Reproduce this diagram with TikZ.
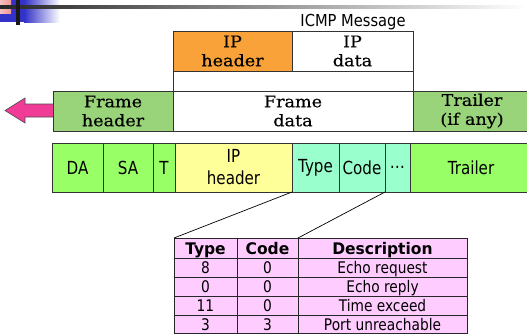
\documentclass[tikz,border=0pt]{standalone}
\usepackage{fontspec}
\newfontfamily\tahA[FakeStretch=0.89]{DejaVu Sans}
\newfontfamily\tahB[FakeStretch=0.84]{DejaVu Sans}
\newfontfamily\tahC[FakeStretch=0.86]{DejaVu Sans}
\newfontfamily\tahD[FakeStretch=0.97]{DejaVu Sans}
\newfontfamily\serifc[FakeStretch=1.1,FakeBold=0.4]{DejaVu Serif}
\definecolor{orangeA}{RGB}{249,162,58}
\definecolor{fgreen}{RGB}{153,211,122}
\definecolor{bgreen}{RGB}{153,255,102}
\definecolor{pyellow}{RGB}{255,255,153}
\definecolor{aqua}{RGB}{153,255,204}
\definecolor{tpink}{RGB}{255,204,255}
\definecolor{apink}{RGB}{240,60,150}
\definecolor{decoblue}{RGB}{50,50,200}
\definecolor{decopink}{RGB}{240,150,150}
\begin{document}
\begin{tikzpicture}[x=1pt,y=-1pt,
  box/.style={draw=black!80, line width=0.8pt, anchor=north west, inner sep=0pt, outer sep=0pt, align=center},
  serifbox/.style={box, minimum height=40pt, font=\serifc\fontsize{16}{19}\selectfont},
  rowcell/.style={box, minimum height=49pt, font=\tahB\fontsize{18}{22}\selectfont},
  tcell/.style={draw=black!85, line width=0.9pt, anchor=north west, inner sep=0pt, outer sep=0pt, fill=tpink, minimum height=19pt, text height=12pt, text depth=0pt, font=\tahC\fontsize{16}{18}\selectfont},
  thead/.style={tcell, minimum height=20pt, font=\tahD\bfseries\fontsize{16}{18}\selectfont},
  conn/.style={draw=black, line width=0.7pt}]
\clip (0,0) rectangle (527,333);
% slide decoration
\fill[decoblue] (0,0) rectangle (24,22);
\shade[left color=decoblue, right color=white] (24,0) rectangle (60,22);
\shade[left color=decopink!60, right color=decopink] (0,0) rectangle (11,13);
\shade[left color=black!85, right color=white] (0,5) rectangle (527,8.5);
\fill[black!90] (16,0) rectangle (19.5,25);
% ICMP label
\node[font=\tahA\fontsize{16.5}{18}\selectfont, anchor=base] (icmp) at (353,26) {ICMP Message};
% upper frame
\node[serifbox, fill=orangeA, minimum width=119pt] (iphdr) at (173,31) {IP\\header};
\node[serifbox, fill=white, minimum width=121pt] (ipdata) at (292,31) {IP\\data};
\node[box, minimum width=240pt, minimum height=20pt] (gap) at (173,71) {};
\node[serifbox, minimum width=240pt] (framedata) at (173,91) {Frame\\data};
\node[serifbox, fill=fgreen, minimum width=120pt] (framehdr) at (53,91) {Frame\\header};
\node[serifbox, fill=fgreen, minimum width=118pt] (trailerA) at (413,91) {Trailer\\(if any)};
% pink arrow
\filldraw[fill=apink, draw=black!70, line width=0.6pt, line join=miter] (53,104) -- (25,104) -- (25,98) -- (5,110.5) -- (25,123) -- (25,117) -- (53,117);
% lower frame row
\node[rowcell, fill=bgreen, minimum width=51pt] (da) at (52,143) {DA};
\node[rowcell, fill=bgreen, minimum width=50pt] (sa) at (103,143) {SA};
\node[rowcell, fill=bgreen, minimum width=22pt] (t) at (153,143) {T};
\node[rowcell, fill=pyellow, minimum width=117pt] (iphB) at (175,143) {IP\\header};
\node[rowcell, fill=aqua, minimum width=47pt] (type) at (292,143) {Type};
\node[rowcell, fill=aqua, minimum width=46pt] (code) at (339,143) {Code};
\node[rowcell, fill=aqua, minimum width=25pt] (dots) at (385,143) {\dots};
\node[rowcell, fill=bgreen, minimum width=122pt] (trailerB) at (410,143) {Trailer};
% table
\node[thead, minimum width=63pt] (h1) at (174,238) {Type};
\node[thead, minimum width=61pt] (h2) at (237,238) {Code};
\node[thead, minimum width=169pt] (h3) at (298,238) {Description};
\node[tcell, minimum width=63pt] (a1) at (174,258) {8};
\node[tcell, minimum width=61pt] (a2) at (237,258) {0};
\node[tcell, minimum width=169pt] (a3) at (298,258) {Echo request};
\node[tcell, minimum width=63pt] (b1) at (174,277) {0};
\node[tcell, minimum width=61pt] (b2) at (237,277) {0};
\node[tcell, minimum width=169pt] (b3) at (298,277) {Echo reply};
\node[tcell, minimum width=63pt] (c1) at (174,296) {11};
\node[tcell, minimum width=61pt] (c2) at (237,296) {0};
\node[tcell, minimum width=169pt] (c3) at (298,296) {Time exceed};
\node[tcell, minimum width=63pt, minimum height=18pt] (d1) at (174,315) {3};
\node[tcell, minimum width=61pt, minimum height=18pt] (d2) at (237,315) {3};
\node[tcell, minimum width=169pt, minimum height=18pt] (d3) at (298,315) {Port unreachable};
% connectors
\draw[conn] (type.south west) -- (h1.north west);
\draw[conn] (code.south east) -- (h2.north east);
\end{tikzpicture}
\end{document}
